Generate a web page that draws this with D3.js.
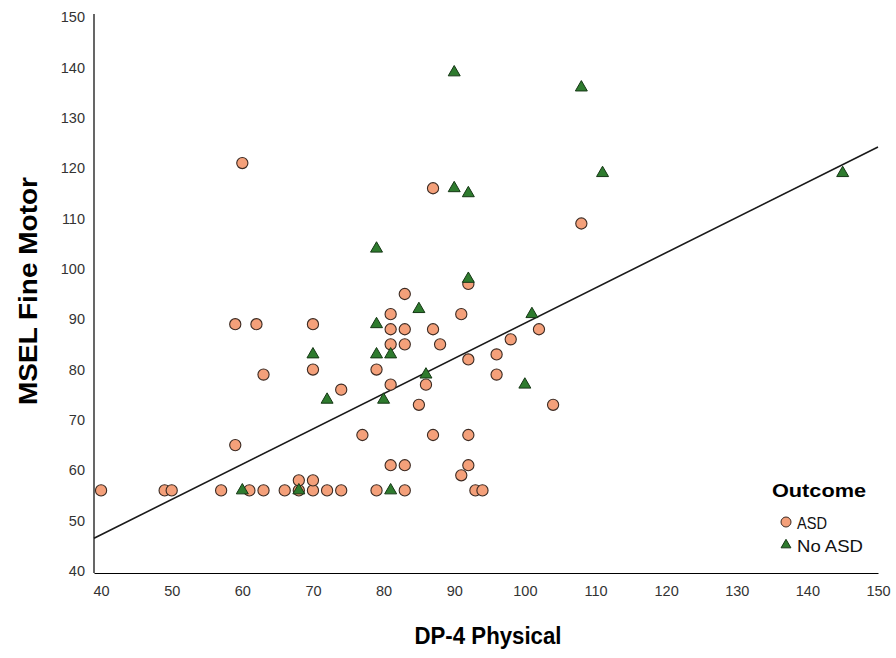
<!DOCTYPE html>
<html>
<head>
<meta charset="utf-8">
<script src="https://cdn.jsdelivr.net/npm/d3@7"></script>
<style>
  html, body { margin: 0; padding: 0; background: #fff; }
  svg { display: block; font-family: "Liberation Sans", Arial, sans-serif; }
</style>
</head>
<body>
<svg id="chart" width="896" height="658"></svg>
<script>
// DP-4 Physical (x) vs MSEL Fine Motor (y), split by outcome group
const asdX = [40, 49, 50, 57, 61, 63, 66, 68, 70, 72, 74, 79, 83, 93, 94,
              68, 70, 91, 81, 83, 92, 77, 87, 92, 59, 85, 104, 74, 81, 86,
              63, 96, 70, 79, 92, 96, 81, 83, 88, 98, 81, 83, 87, 102,
              59, 62, 70, 81, 91, 83, 92, 108, 87, 60];
const asdY = [56, 56, 56, 56, 56, 56, 56, 56, 56, 56, 56, 56, 56, 56, 56,
              58, 58, 59, 61, 61, 61, 67, 67, 67, 65, 73, 73, 76, 77, 77,
              79, 79, 80, 80, 82, 83, 85, 85, 85, 86, 88, 88, 88, 88,
              89, 89, 89, 91, 91, 95, 97, 109, 116, 121];

const noAsdX = [90, 108, 111, 145, 90, 92, 79, 92, 85, 101, 79, 79, 81, 70, 86, 100, 80, 72, 60, 68, 81];
const noAsdY = [139, 136, 119, 119, 116, 115, 104, 98, 92, 91, 89, 83, 83, 83, 79, 77, 74, 74, 56, 56, 56];

// Fit line at total
const fitIntercept = 19.2;
const fitSlope = 0.70;
const fitRange = [39, 150];

const xTicks = [40, 50, 60, 70, 80, 90, 100, 110, 120, 130, 140, 150];
const yTicks = [40, 50, 60, 70, 80, 90, 100, 110, 120, 130, 140, 150];

const groups = ["ASD", "No ASD"];
const xTitle = "DP-4 Physical";
const yTitle = "MSEL Fine Motor";
const legendTitle = "Outcome";

const svg = d3.select("#chart");

const x = d3.scaleLinear().domain([39, 150]).range([94, 878]);
const y = d3.scaleLinear().domain([39.6, 150]).range([573, 17]);

const orange = "#F4A07A";
const green = "#2E7B2E";
const edge = "#3b2a22";

// axes (no tick marks, labels only)
const xAxis = d3.axisBottom(x).tickValues(xTicks).tickSize(0).tickPadding(13).tickFormat(d3.format("d"));
const yAxis = d3.axisLeft(y).tickValues(yTicks).tickSize(0).tickPadding(9).tickFormat(d3.format("d"));

const gx = svg.append("g").attr("transform", `translate(0,${y(39.6)})`).call(xAxis);
const gy = svg.append("g").attr("transform", `translate(${x(39)},0)`).call(yAxis);
[gx, gy].forEach(g => {
  g.select(".domain").attr("stroke", "#000").attr("stroke-width", 1.2);
  g.selectAll("text").attr("font-size", 14.5).attr("fill", "#333")
    .attr("font-family", "'Liberation Sans', Arial, sans-serif");
});
gy.select(".domain").attr("d", `M0,${y(150) - 3}V${y(39.6)}`);

// fit line
svg.append("line")
  .attr("x1", x(fitRange[0])).attr("y1", y(fitIntercept + fitSlope * fitRange[0]))
  .attr("x2", x(fitRange[1])).attr("y2", y(fitIntercept + fitSlope * fitRange[1]))
  .attr("stroke", "#1a1a1a").attr("stroke-width", 1.6);

// ASD points
const asd = asdX.map((v, i) => ({ x: v, y: asdY[i] }));
svg.append("g").selectAll("circle").data(asd).join("circle")
  .attr("cx", d => x(d.x)).attr("cy", d => y(d.y)).attr("r", 5.6)
  .attr("fill", orange).attr("stroke", edge).attr("stroke-width", 1.1);

// No ASD points
const tri = d3.symbol().type(d3.symbolTriangle).size(62);
const noAsd = noAsdX.map((v, i) => ({ x: v, y: noAsdY[i] }));
svg.append("g").selectAll("path").data(noAsd).join("path")
  .attr("d", tri)
  .attr("transform", d => `translate(${x(d.x)},${y(d.y)})`)
  .attr("fill", green).attr("stroke", "#163816").attr("stroke-width", 1);

// axis titles
svg.append("text")
  .attr("x", 488).attr("y", 644).attr("text-anchor", "middle")
  .attr("font-size", 23).attr("font-weight", "bold").attr("fill", "#000")
  .attr("textLength", 147).attr("lengthAdjust", "spacingAndGlyphs")
  .text(xTitle);
svg.append("text")
  .attr("transform", "translate(37,291) rotate(-90)")
  .attr("text-anchor", "middle")
  .attr("font-size", 25).attr("font-weight", "bold").attr("fill", "#000")
  .attr("textLength", 228).attr("lengthAdjust", "spacingAndGlyphs")
  .text(yTitle);

// legend
const lg = svg.append("g");
lg.append("text").attr("x", 772).attr("y", 497)
  .attr("font-size", 19).attr("font-weight", "bold").attr("fill", "#000")
  .attr("textLength", 94).attr("lengthAdjust", "spacingAndGlyphs")
  .text(legendTitle);
lg.append("circle").attr("cx", 786).attr("cy", 522).attr("r", 5)
  .attr("fill", orange).attr("stroke", edge).attr("stroke-width", 1);
lg.append("path").attr("d", d3.symbol().type(d3.symbolTriangle).size(42))
  .attr("transform", "translate(786,545)")
  .attr("fill", green).attr("stroke", "#163816").attr("stroke-width", 1);
const itemWidths = [30, 66];
lg.selectAll("text.item").data(groups).join("text").attr("class", "item")
  .attr("x", 797).attr("y", (d, i) => 529 + i * 23)
  .attr("font-size", 17).attr("fill", "#111")
  .attr("textLength", (d, i) => itemWidths[i]).attr("lengthAdjust", "spacingAndGlyphs")
  .text(d => d);
</script>
</body>
</html>
